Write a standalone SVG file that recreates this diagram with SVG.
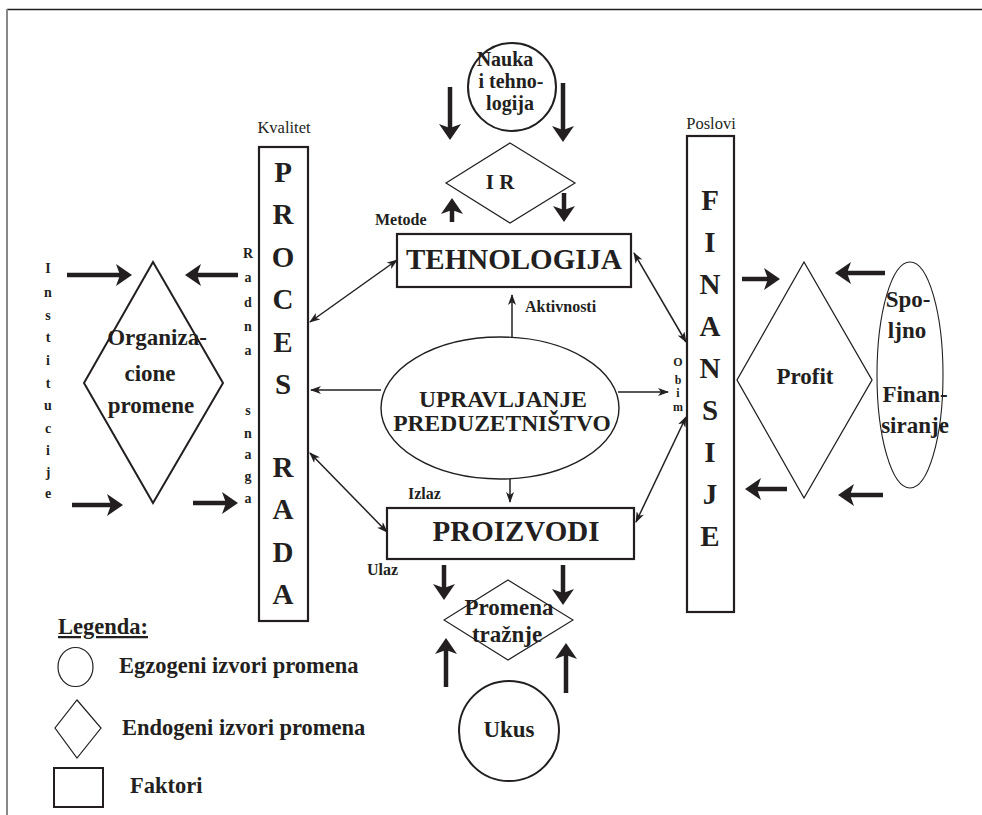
<svg xmlns="http://www.w3.org/2000/svg" width="982" height="815" viewBox="0 0 982 815">
<defs>
<marker id="big" markerUnits="userSpaceOnUse" markerWidth="16" markerHeight="22" refX="6" refY="11" orient="auto"><path d="M0,0 L16,11 L0,22 L4,11 z" fill="#231f20"/></marker>
<marker id="sm" markerUnits="userSpaceOnUse" markerWidth="11" markerHeight="8" refX="10" refY="4" orient="auto-start-reverse"><path d="M0,0 L11,4 L0,8 L3,4 z" fill="#231f20"/></marker>
</defs>
<style>
text{font-family:"Liberation Serif","Times New Roman",serif;fill:#231f20;font-weight:bold}
.reg{font-weight:normal;font-size:16.5px}
.lbl{font-size:16px}
.big{font-size:29px;text-anchor:middle}
.mid{font-size:23px;text-anchor:middle}
.vl{font-size:14px;text-anchor:middle}
.leg{font-size:22.5px}
.shape{fill:#fff;stroke:#231f20}
.thick{stroke:#231f20;stroke-width:4.5;fill:none;marker-end:url(#big)}
.thin{stroke:#231f20;stroke-width:1.5;fill:none;marker-end:url(#sm)}
.dbl{marker-start:url(#sm)}
</style>
<rect width="982" height="815" fill="#fff"/>
<line x1="7" y1="9.5" x2="982" y2="9.5" stroke="#231f20" stroke-width="1.5"/>
<line x1="7" y1="9" x2="7" y2="815" stroke="#888" stroke-width="2"/>

<g id="connectors">
<line class="thick" x1="450" y1="87" x2="450" y2="130"/>
<line class="thick" x1="563" y1="83" x2="563" y2="132"/>
<line class="thick" x1="452" y1="222" x2="452" y2="208"/>
<line class="thick" x1="564" y1="193" x2="564" y2="212"/>
<line class="thick" x1="67" y1="275" x2="122" y2="275"/>
<line class="thick" x1="238" y1="275" x2="195" y2="275"/>
<line class="thick" x1="72" y1="505" x2="113" y2="505"/>
<line class="thick" x1="193" y1="503" x2="228" y2="503"/>
<line class="thick" x1="742" y1="279" x2="770" y2="279"/>
<line class="thick" x1="885" y1="273" x2="845" y2="273"/>
<line class="thick" x1="787" y1="489" x2="755" y2="489"/>
<line class="thick" x1="883" y1="495" x2="848" y2="495"/>
<line class="thick" x1="444" y1="565" x2="444" y2="590"/>
<line class="thick" x1="563" y1="565" x2="563" y2="595"/>
<line class="thick" x1="446" y1="687" x2="446" y2="648"/>
<line class="thick" x1="566" y1="693" x2="566" y2="653"/>
<line class="thin dbl" x1="310" y1="322" x2="397" y2="260"/>
<line class="thin" x1="381" y1="390" x2="311" y2="390"/>
<line class="thin dbl" x1="310" y1="453" x2="387" y2="532"/>
<line class="thin" x1="618" y1="392" x2="668" y2="392"/>
<line class="thin dbl" x1="634" y1="253" x2="686" y2="342"/>
<line class="thin dbl" x1="636" y1="522" x2="686" y2="417"/>
<line class="thin" x1="512" y1="337" x2="512" y2="295"/>
<line class="thin" x1="510" y1="479" x2="510" y2="502"/>
</g>

<g id="nauka">
<circle class="shape" cx="512" cy="87" r="44" stroke-width="2"/>
<text x="505" y="66" font-size="20" text-anchor="middle">Nauka</text>
<text x="511" y="88" font-size="20" text-anchor="middle">i tehno-</text>
<text x="510" y="110" font-size="20" text-anchor="middle">logija</text>
</g>

<g id="ir">
<polygon class="shape" points="510,143 575,183 510,223 446,183" stroke-width="1.2"/>
<text x="500" y="189" font-size="21" text-anchor="middle">I R</text>
</g>

<g id="tehnologija">
<rect class="shape" x="397" y="234" width="234" height="53" stroke-width="2.2"/>
<text class="big" x="514" y="269">TEHNOLOGIJA</text>
</g>

<g id="proces-rada">
<text class="reg" x="284" y="133" text-anchor="middle">Kvalitet</text>
<rect class="shape" x="259" y="147" width="49" height="474" stroke-width="2.2"/>
<g class="big">
<text x="283" y="182">P</text>
<text x="283" y="224">R</text>
<text x="283" y="267">O</text>
<text x="283" y="309">C</text>
<text x="283" y="352">E</text>
<text x="283" y="394">S</text>
<text x="283" y="477">R</text>
<text x="283" y="519">A</text>
<text x="283" y="562">D</text>
<text x="283" y="604">A</text>
</g>
</g>

<g id="radna-snaga" class="vl">
<text x="248" y="258">R</text>
<text x="248" y="282">a</text>
<text x="248" y="307">d</text>
<text x="248" y="331">n</text>
<text x="248" y="355">a</text>
<text x="248" y="415">s</text>
<text x="248" y="438">n</text>
<text x="248" y="459">a</text>
<text x="248" y="481">g</text>
<text x="248" y="503">a</text>
</g>

<g id="institucije" class="vl">
<text x="48" y="273">I</text>
<text x="48" y="297">n</text>
<text x="48" y="320">s</text>
<text x="48" y="342">t</text>
<text x="48" y="365">i</text>
<text x="48" y="388">t</text>
<text x="48" y="410">u</text>
<text x="48" y="433">c</text>
<text x="48" y="455">i</text>
<text x="48" y="477">j</text>
<text x="48" y="498">e</text>
</g>

<g id="organizacione">
<polygon class="shape" points="153,262 223,383 153,503 84,383" stroke-width="2"/>
<text class="mid" x="157" y="345" font-size="24">Organiza-</text>
<text class="mid" x="150" y="381" font-size="24">cione</text>
<text class="mid" x="151" y="413" font-size="24">promene</text>
</g>

<g id="upravljanje">
<ellipse class="shape" cx="500" cy="408" rx="119" ry="71" stroke-width="1.4"/>
<text x="503" y="407" font-size="23.5" text-anchor="middle">UPRAVLJANJE</text>
<text x="502" y="431" font-size="23.5" text-anchor="middle">PREDUZETNIŠTVO</text>
</g>

<g id="labels">
<text class="lbl" x="375" y="225">Metode</text>
<text class="lbl" x="525" y="312">Aktivnosti</text>
<text class="lbl" x="408" y="499">Izlaz</text>
<text class="lbl" x="367" y="575">Ulaz</text>
</g>

<g id="proizvodi">
<rect class="shape" x="387" y="508" width="247" height="51" stroke-width="2.2"/>
<text class="big" x="516" y="541">PROIZVODI</text>
</g>

<g id="finansije">
<text class="reg" x="711" y="129" text-anchor="middle">Poslovi</text>
<rect class="shape" x="687" y="136" width="47" height="476" stroke-width="2.2"/>
<g class="big">
<text x="710" y="210">F</text>
<text x="710" y="252">I</text>
<text x="710" y="294">N</text>
<text x="710" y="336">A</text>
<text x="710" y="378">N</text>
<text x="710" y="420">S</text>
<text x="710" y="462">I</text>
<text x="710" y="504">J</text>
<text x="710" y="546">E</text>
</g>
</g>

<g id="obim">
<text x="678" y="366" text-anchor="middle" font-size="12">O</text>
<text x="678" y="384" text-anchor="middle" font-size="12">b</text>
<text x="678" y="397" text-anchor="middle" font-size="12">i</text>
<text x="678" y="411" text-anchor="middle" font-size="12">m</text>
</g>

<g id="profit">
<polygon class="shape" points="804,262 872,380 804,498 737,380" stroke-width="1.3"/>
<text class="mid" x="805" y="384">Profit</text>
</g>

<g id="spoljno">
<ellipse class="shape" cx="910" cy="375" rx="33" ry="113" stroke-width="1.1"/>
<text class="mid" x="908" y="307">Spo-</text>
<text class="mid" x="907" y="338">ljno</text>
<text class="mid" x="915" y="402">Finan-</text>
<text class="mid" x="915" y="433">siranje</text>
</g>

<g id="promena">
<polygon class="shape" points="508,580 573,620 508,660 444,620" stroke-width="1.1"/>
<text class="mid" x="509" y="615">Promena</text>
<text class="mid" x="507" y="642">tražnje</text>
</g>

<g id="ukus">
<circle class="shape" cx="509" cy="731" r="50" stroke-width="2"/>
<text class="mid" x="509" y="737">Ukus</text>
</g>

<g id="legenda">
<text class="leg" x="58" y="634" text-decoration="underline">Legenda:</text>
<ellipse class="shape" cx="75.5" cy="667" rx="17.5" ry="19.5" stroke-width="1.2"/>
<text class="leg" x="119" y="673">Egzogeni izvori promena</text>
<polygon class="shape" points="77,700 101,728 77,758 55,728" stroke-width="1.2"/>
<text class="leg" x="122" y="735">Endogeni izvori promena</text>
<rect class="shape" x="54" y="768" width="49" height="39" stroke-width="2"/>
<text class="leg" x="130" y="793">Faktori</text>
</g>
</svg>
